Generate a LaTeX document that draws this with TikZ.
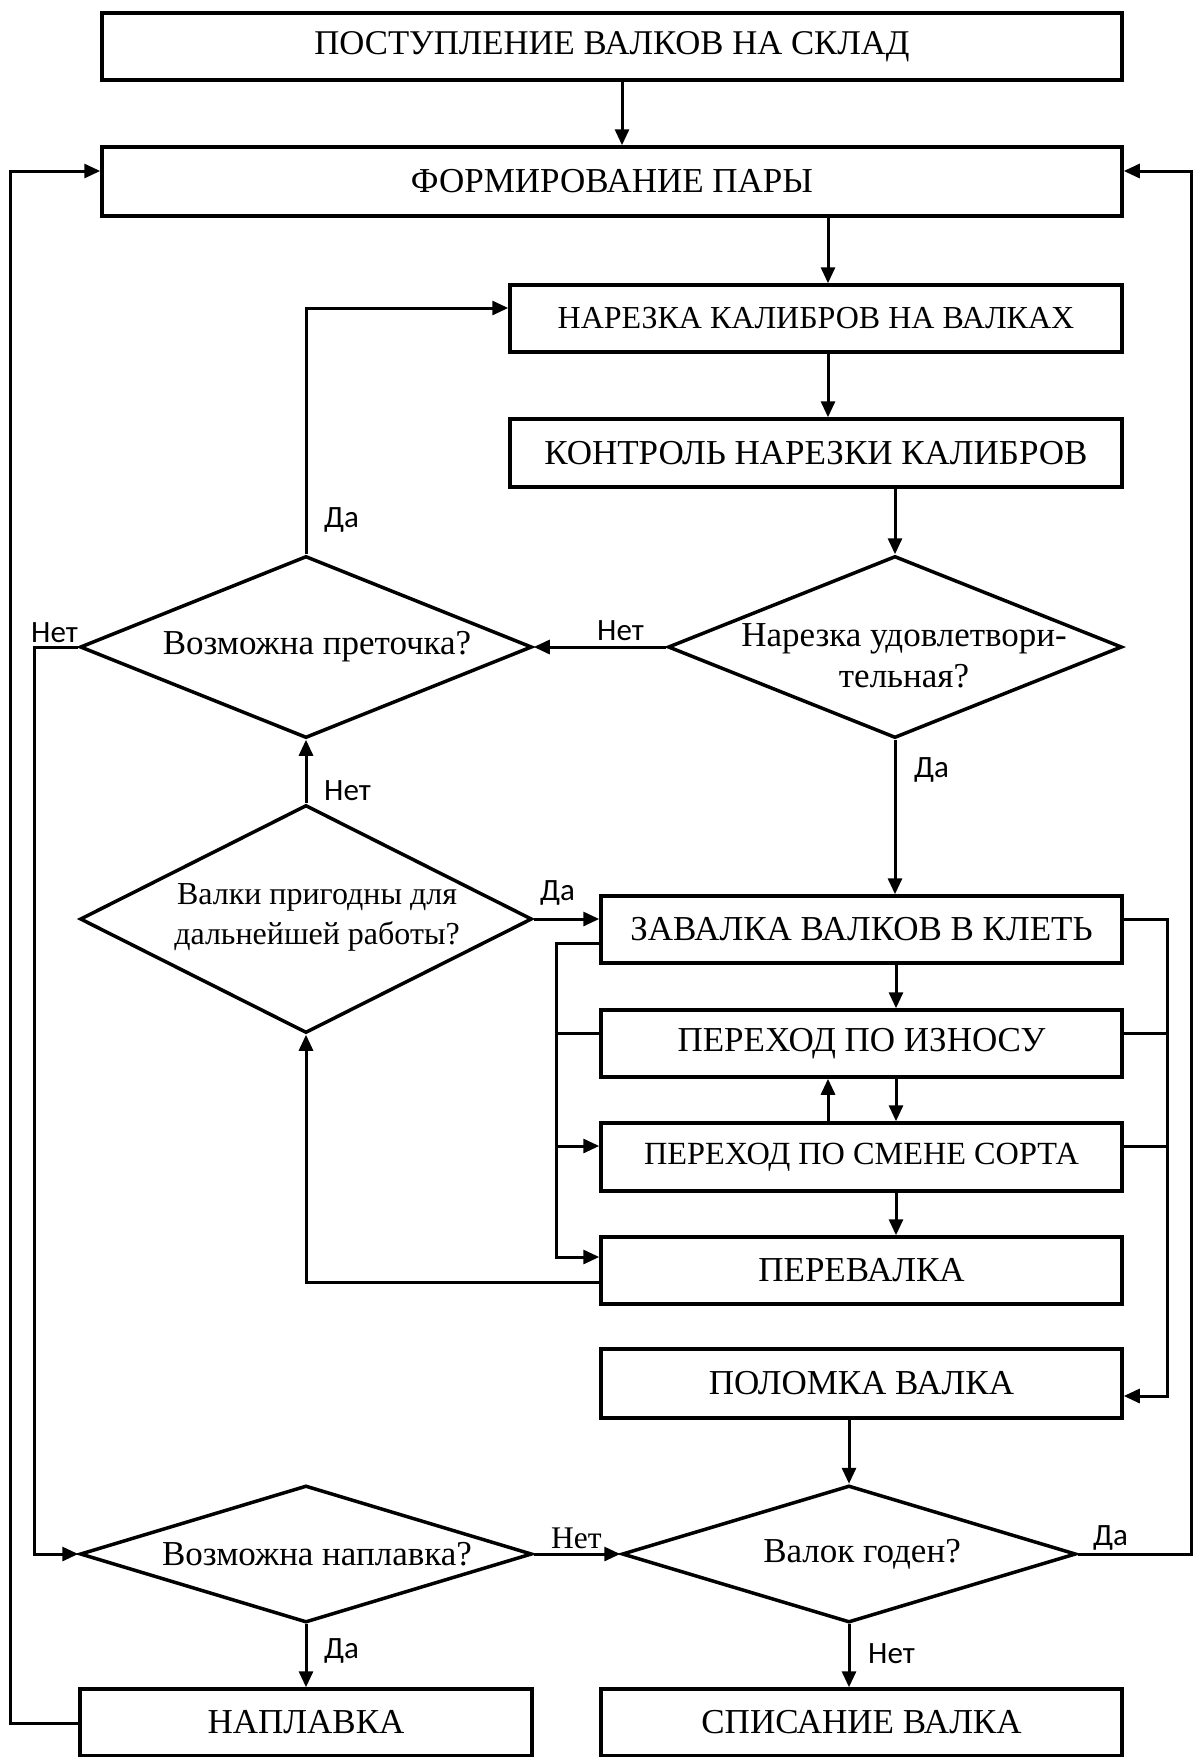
\documentclass[tikz,border=0pt]{standalone}
\usepackage{fontspec}
\setmainfont{Liberation Serif}
\newfontfamily\lblfont{Carlito}
\usetikzlibrary{arrows.meta,shapes.geometric}
\begin{document}
\begin{tikzpicture}[x=1pt,y=-1pt,
  box/.style={draw, line width=3.5pt, rectangle, inner sep=0pt, font=\fontsize{35}{40}\selectfont},
  diam/.style={draw, line width=3.5pt, diamond, inner sep=0pt},
  dtext/.style={align=center, font=\fontsize{35}{41}\selectfont, inner sep=0pt},
  conn/.style={line width=3pt},
  arr/.style={conn, -{Triangle[length=16pt,width=14pt]}},
  lbl/.style={font=\lblfont\fontsize{31}{34}\selectfont, inner sep=0pt, anchor=base west},
  slbl/.style={font=\fontsize{31.5}{34}\selectfont, inner sep=0pt, anchor=base west},
]
\useasboundingbox (0,0) rectangle (1198,1757);

% boxes
\node[box, minimum width=1020, minimum height=67, font=\fontsize{34.7}{40}\selectfont] (b1) at (612,46.5) {ПОСТУПЛЕНИЕ ВАЛКОВ НА СКЛАД};
\node[box, minimum width=1020, minimum height=69] (b2) at (612,181.5) {ФОРМИРОВАНИЕ ПАРЫ};
\node[box, minimum width=612, minimum height=67, font=\fontsize{32}{38}\selectfont] (b3) at (816,318.5) {НАРЕЗКА КАЛИБРОВ НА ВАЛКАХ};
\node[box, minimum width=612, minimum height=68] (b4) at (816,453) {КОНТРОЛЬ НАРЕЗКИ КАЛИБРОВ};
\node[box, minimum width=521, minimum height=67] (b5) at (861.5,929.5) {ЗАВАЛКА ВАЛКОВ В КЛЕТЬ};
\node[box, minimum width=521, minimum height=67] (b6) at (861.5,1043.5) {ПЕРЕХОД ПО ИЗНОСУ};
\node[box, minimum width=521, minimum height=68, font=\fontsize{32.3}{38}\selectfont] (b7) at (861.5,1157) {ПЕРЕХОД ПО СМЕНЕ СОРТА};
\node[box, minimum width=521, minimum height=67] (b8) at (861.5,1270.5) {ПЕРЕВАЛКА};
\node[box, minimum width=521, minimum height=69] (b9) at (861.5,1383.5) {ПОЛОМКА ВАЛКА};
\node[box, minimum width=452, minimum height=67] (b10) at (306,1722.5) {НАПЛАВКА};
\node[box, minimum width=521, minimum height=67] (b11) at (861.5,1722.5) {СПИСАНИЕ ВАЛКА};

% diamonds
\node[diam, minimum width=454, minimum height=182] (d1) at (895,647) {};
\node[dtext] (t1) at (904,656) {Нарезка удовлетвори-\\тельная?};
\node[diam, minimum width=452, minimum height=182] (d2) at (306,647) {};
\node[dtext] (t2) at (317,647) {Возможна преточка?};
\node[diam, minimum width=452, minimum height=228] (d3) at (306,919) {};
\node[dtext, font=\fontsize{32}{40}\selectfont] (t3) at (317,917) {Валки пригодны для\\дальнейшей работы?};
\node[diam, minimum width=454, minimum height=137] (d4) at (849,1554) {};
\node[dtext] (t4) at (862,1554) {Валок годен?};
\node[diam, minimum width=452, minimum height=137] (d5) at (306,1554) {};
\node[dtext] (t5) at (317,1554) {Возможна наплавка?};

% helper coordinates
\coordinate (c622) at (622,0);
\coordinate (c828) at (828,0);
\coordinate (c896) at (896,0);
\coordinate (lbus) at (556,0);
\coordinate (rbus) at (1167,0);
\coordinate (lout) at (10,0);
\coordinate (lin) at (34,0);
\coordinate (rout) at (1191,0);
\coordinate (y171) at (0,171);
\coordinate (y308) at (0,308);
\coordinate (y943) at (0,943);
\coordinate (y1033) at (0,1033);
\coordinate (y1146) at (0,1146);
\coordinate (y1257) at (0,1257);
\coordinate (y1282) at (0,1282);
\coordinate (y919) at (0,919);
\coordinate (y1396) at (0,1396);
\coordinate (y1723) at (0,1723);

% connectors
\draw[arr] (b1.south -| c622) -- (b2.north -| c622);
\draw[arr] (b2.south -| c828) -- (b3.north -| c828);
\draw[arr] (b3.south -| c828) -- (b4.north -| c828);
\draw[arr] (b4.south -| d1.north) -- (d1.north);
\draw[arr] (d1.west) -- (d2.east);
\draw[arr] (d2.west) -- (d2.west -| lin) -- (d5.west -| lin) -- (d5.west);
\draw[arr] (d2.north) -- (d2.north |- y308) -- (b3.west |- y308);
\draw[arr] (d3.north) -- (d2.south);
\draw[arr] (d3.east) -- (b5.west |- d3.east);
\draw[arr] (d1.south) -- (b5.north -| d1.south);
\draw[arr] (b5.south -| c896) -- (b6.north -| c896);
\draw[arr] (b6.south -| c896) -- (b7.north -| c896);
\draw[arr] (b7.north -| c828) -- (b6.south -| c828);
\draw[arr] (b7.south -| c896) -- (b8.north -| c896);
\draw[arr] (b5.west |- y943) -- (lbus |- y943) -- (lbus |- y1257) -- (b8.west |- y1257);
\draw[conn] (b6.west |- y1033) -- (lbus |- y1033);
\draw[arr] (lbus |- y1146) -- (b7.west |- y1146);
\draw[arr] (b8.west |- y1282) -- (d3.south |- y1282) -- (d3.south);
\draw[arr] (b5.east |- y919) -- (rbus |- y919) -- (rbus |- y1396) -- (b9.east |- y1396);
\draw[conn] (b6.east |- y1033) -- (rbus |- y1033);
\draw[conn] (b7.east |- y1146) -- (rbus |- y1146);
\draw[arr] (b9.south -| d4.north) -- (d4.north);
\draw[arr] (d5.east) -- (d4.west);
\draw[arr] (d4.east) -- (d4.east -| rout) -- (rout |- y171) -- (b2.east |- y171);
\draw[arr] (d4.south) -- (b11.north -| d4.south);
\draw[arr] (d5.south) -- (b10.north -| d5.south);
\draw[arr] (b10.west |- y1723) -- (lout |- y1723) -- (lout |- y171) -- (b2.west |- y171);

% labels
\node[lbl] (l1) at (324,527) {Да};
\node[lbl] (l2) at (597,640) {Нет};
\node[lbl] (l3) at (31,642) {Нет};
\node[lbl] (l4) at (324,800) {Нет};
\node[lbl] (l5) at (540,900) {Да};
\node[lbl] (l6) at (914,777) {Да};
\node[slbl] (l7) at (551,1548) {Нет};
\node[lbl] (l8) at (1093,1545) {Да};
\node[lbl] (l9) at (868,1663) {Нет};
\node[lbl] (l10) at (324,1658) {Да};
\end{tikzpicture}
\end{document}
